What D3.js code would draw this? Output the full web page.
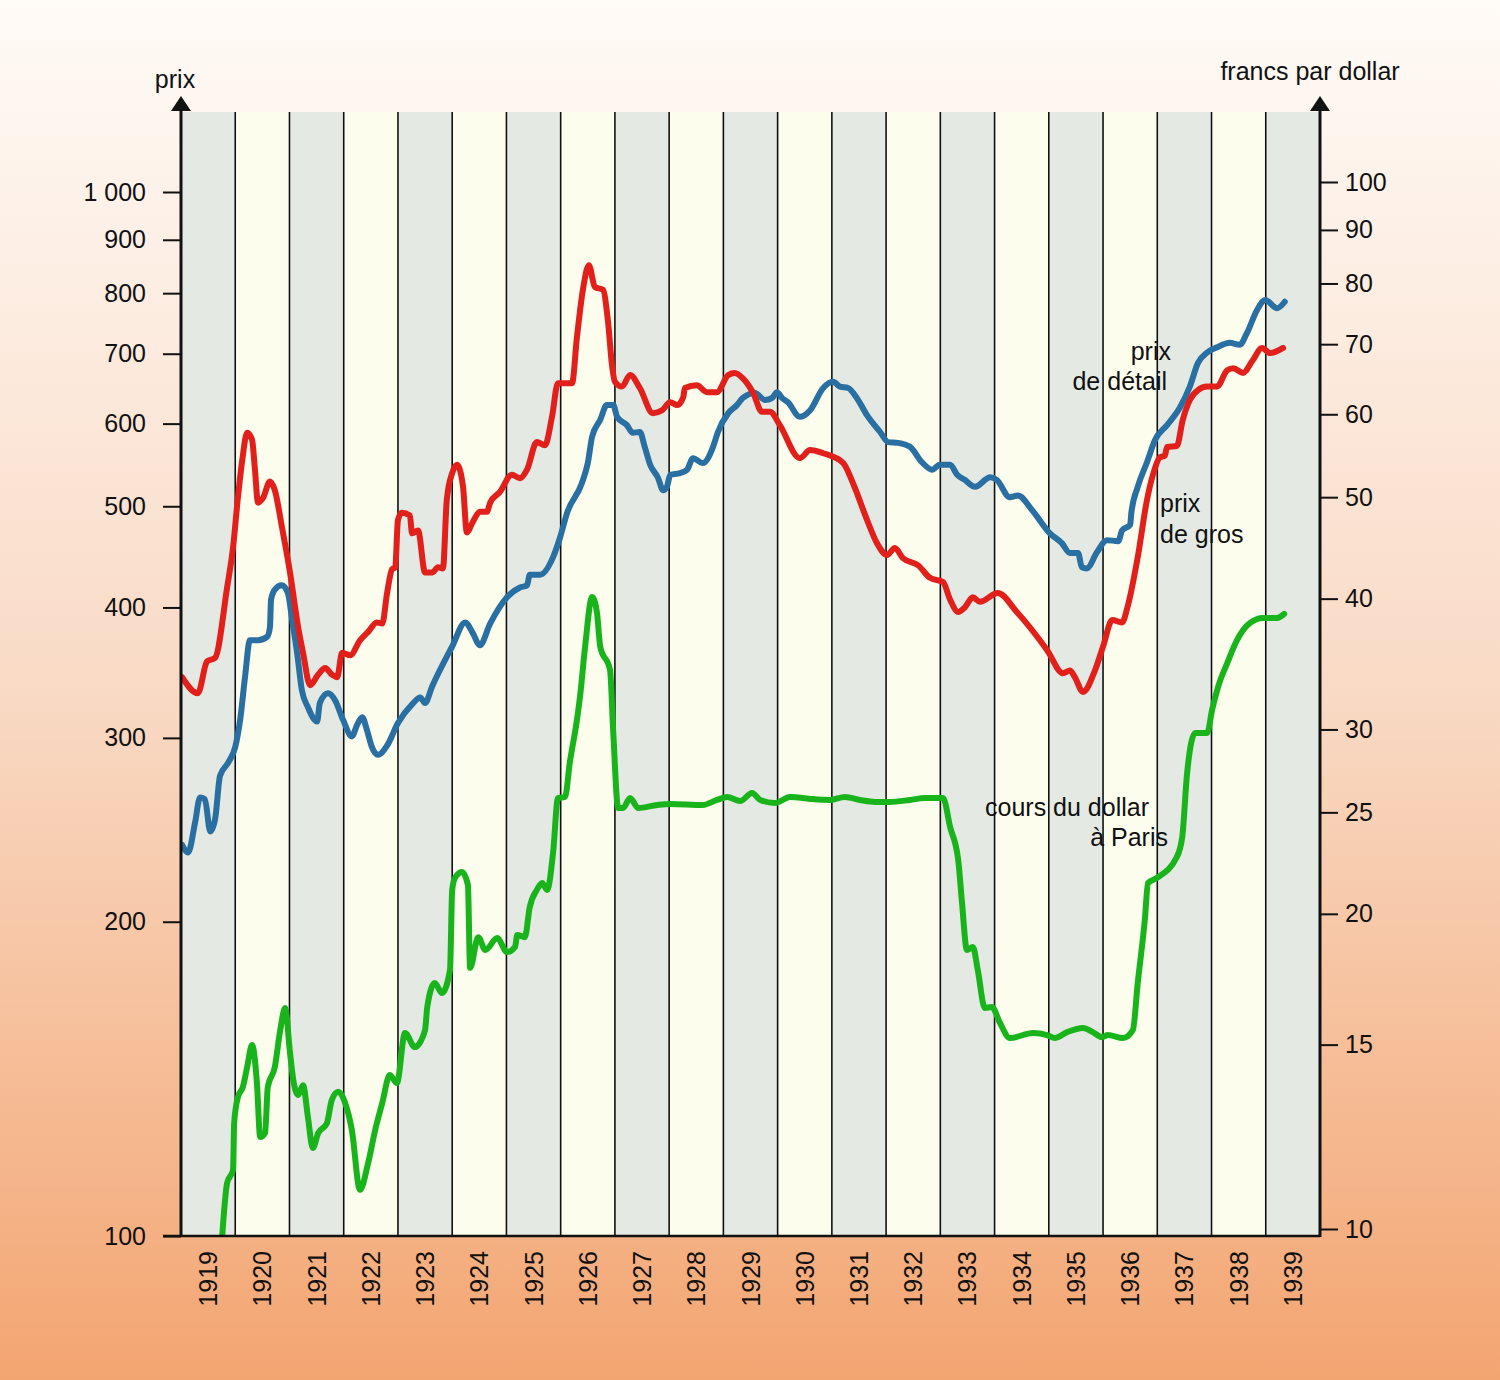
<!DOCTYPE html>
<html><head><meta charset="utf-8">
<script src="https://cdn.jsdelivr.net/npm/d3@7"></script>
<style>body{margin:0}svg{display:block}text{font-family:"Liberation Sans",Arial,sans-serif;fill:#111}</style>
</head><body>
<svg id="c" width="1500" height="1380"></svg>
<script>
// ---- data ----
const years = [1919,1920,1921,1922,1923,1924,1925,1926,1927,1928,1929,1930,1931,1932,1933,1934,1935,1936,1937,1938,1939];
const leftTicks = [100,200,300,400,500,600,700,800,900,1000];
const rightTicks = [10,15,20,25,30,40,50,60,70,80,90,100];

// prix de gros (red)
const grosT = [1919.02,1919.31,1919.48,1919.63,1919.85,1919.96,1920.05,1920.13,1920.22,1920.31,1920.36,1920.42,1920.51,1920.64,1920.73,1920.86,1921.01,1921.16,1921.25,1921.38,1921.53,1921.66,1921.78,1921.88,1921.97,1922.12,1922.30,1922.45,1922.61,1922.71,1922.80,1922.89,1922.95,1923.00,1923.07,1923.22,1923.26,1923.37,1923.50,1923.63,1923.74,1923.83,1923.90,1924.00,1924.09,1924.20,1924.27,1924.38,1924.51,1924.64,1924.70,1924.88,1925.10,1925.25,1925.38,1925.56,1925.71,1925.84,1925.95,1926.21,1926.30,1926.41,1926.52,1926.63,1926.78,1926.87,1926.95,1927.00,1927.13,1927.28,1927.46,1927.70,1927.87,1928.02,1928.15,1928.26,1928.29,1928.51,1928.70,1928.88,1929.09,1929.21,1929.36,1929.55,1929.71,1929.86,1930.04,1930.41,1930.60,1930.84,1931.21,1931.39,1931.65,1931.83,1932.02,1932.16,1932.31,1932.59,1932.81,1933.05,1933.18,1933.33,1933.45,1933.60,1933.73,1934.06,1934.41,1934.97,1935.26,1935.39,1935.48,1935.63,1935.85,1936.00,1936.17,1936.35,1936.46,1936.64,1936.81,1936.92,1937.05,1937.14,1937.18,1937.36,1937.47,1937.60,1937.75,1937.92,1938.10,1938.29,1938.40,1938.58,1938.76,1938.93,1939.08,1939.32];
const grosV = [343,331,355,358,418,457,510,554,588,579,545,504,509,528,518,478,432,383,362,337,345,350,345,343,362,360,372,379,387,386,413,435,437,485,493,490,471,474,432,432,437,436,507,538,548,522,472,483,494,494,504,516,536,532,542,576,572,609,656,656,726,806,851,811,806,754,680,658,651,668,649,614,618,629,625,636,649,653,643,643,668,671,663,642,616,616,598,556,566,562,550,526,485,461,449,456,446,439,427,423,407,396,400,409,405,413,396,364,346,348,343,332,348,367,389,387,402,447,507,536,557,559,570,571,605,632,646,651,651,675,678,671,690,709,701,709];

// prix de détail (blue)
const detailT = [1919.02,1919.13,1919.26,1919.35,1919.44,1919.54,1919.63,1919.72,1919.87,1920.00,1920.09,1920.18,1920.27,1920.42,1920.59,1920.64,1920.66,1920.73,1920.86,1920.97,1921.05,1921.14,1921.23,1921.34,1921.51,1921.56,1921.71,1921.84,1921.99,1922.15,1922.25,1922.34,1922.43,1922.52,1922.63,1922.80,1923.00,1923.26,1923.41,1923.50,1923.63,1924.00,1924.24,1924.38,1924.51,1924.70,1925.01,1925.25,1925.38,1925.43,1925.62,1925.86,1925.99,1926.12,1926.39,1926.50,1926.58,1926.73,1926.85,1926.97,1927.04,1927.22,1927.33,1927.46,1927.55,1927.65,1927.79,1927.89,1927.96,1928.02,1928.20,1928.33,1928.44,1928.62,1928.81,1928.90,1929.09,1929.25,1929.36,1929.58,1929.77,1929.90,1929.99,1930.08,1930.19,1930.41,1930.60,1930.84,1931.02,1931.15,1931.30,1931.46,1931.65,1931.89,1932.04,1932.22,1932.44,1932.66,1932.85,1932.99,1933.18,1933.31,1933.45,1933.64,1933.92,1934.04,1934.28,1934.43,1934.69,1935.02,1935.24,1935.39,1935.54,1935.61,1935.70,1935.89,1936.07,1936.28,1936.35,1936.50,1936.52,1936.64,1936.81,1936.96,1937.18,1937.42,1937.60,1937.75,1937.92,1938.10,1938.34,1938.52,1938.65,1938.84,1938.99,1939.21,1939.35];
const detailV = [237,233,249,263,262,244,251,276,284,294,312,343,372,372,375,383,407,416,420,413,389,362,333,321,311,324,331,326,312,301,309,314,305,294,289,295,310,323,328,324,336,367,387,378,368,386,409,418,420,430,430,447,467,493,526,550,583,605,625,625,609,598,588,589,570,548,533,518,522,536,538,542,556,550,570,589,614,625,635,642,632,635,643,635,629,609,618,649,658,651,649,635,611,589,576,575,570,551,542,548,548,536,530,522,533,530,510,512,496,471,461,451,451,437,436,452,464,463,474,480,492,522,551,579,598,622,651,686,702,710,717,714,732,771,788,774,785];

// cours du dollar à Paris (green, right axis)
const dollarT = [1919.76,1919.85,1919.96,1919.98,1920.05,1920.14,1920.22,1920.31,1920.40,1920.46,1920.55,1920.60,1920.73,1920.83,1920.92,1921.01,1921.07,1921.16,1921.25,1921.34,1921.43,1921.53,1921.69,1921.78,1921.90,1922.02,1922.15,1922.30,1922.45,1922.58,1922.71,1922.85,1922.98,1923.13,1923.31,1923.50,1923.54,1923.68,1923.81,1923.96,1924.00,1924.05,1924.18,1924.29,1924.33,1924.48,1924.61,1924.83,1925.01,1925.16,1925.20,1925.34,1925.43,1925.56,1925.66,1925.75,1925.86,1925.95,1926.08,1926.17,1926.30,1926.36,1926.45,1926.58,1926.67,1926.73,1926.91,1926.97,1927.06,1927.15,1927.28,1927.43,1927.78,1928.02,1928.62,1928.88,1929.07,1929.31,1929.53,1929.68,1929.95,1930.23,1930.60,1930.97,1931.24,1931.52,1931.80,1932.07,1932.44,1932.72,1933.05,1933.18,1933.33,1933.40,1933.49,1933.60,1933.69,1933.82,1933.95,1934.10,1934.28,1934.71,1934.97,1935.11,1935.34,1935.63,1935.81,1935.98,1936.09,1936.37,1936.55,1936.64,1936.77,1936.83,1936.99,1937.36,1937.46,1937.55,1937.70,1937.79,1937.92,1938.01,1938.12,1938.29,1938.47,1938.71,1938.95,1939.21,1939.34];
const dollarV = [9.85,11.06,11.39,12.62,13.37,13.66,14.28,14.99,13.78,12.24,12.35,13.66,14.28,15.49,16.26,14.73,13.88,13.43,13.72,12.79,11.95,12.35,12.62,13.28,13.52,13.22,12.43,10.90,11.56,12.43,13.19,14.03,13.78,15.39,14.92,15.49,16.29,17.18,16.80,17.68,21.08,21.64,21.93,21.31,17.76,19.00,18.47,18.96,18.39,18.60,19.09,19.00,20.30,21.08,21.40,21.08,22.87,25.80,25.86,27.93,30.63,32.36,35.97,40.15,38.76,35.97,34.20,29.77,25.24,25.24,25.80,25.24,25.41,25.47,25.41,25.69,25.86,25.63,26.09,25.69,25.52,25.86,25.75,25.69,25.86,25.69,25.58,25.58,25.69,25.80,25.80,24.21,22.51,20.48,18.47,18.59,17.68,16.26,16.29,15.73,15.22,15.39,15.32,15.22,15.42,15.56,15.42,15.25,15.32,15.22,15.49,17.18,19.73,21.40,21.64,22.66,23.68,27.26,29.77,29.77,29.77,31.31,32.93,34.72,36.52,37.92,38.34,38.34,38.68];

// ---- layout ----
const svg = d3.select("#c");
const X0 = 181, X1 = 1320, YT = 112, YB = 1236;
const x = d3.scaleLinear().domain([1919, 1940]).range([X0, X1]);
const yL = d3.scaleLog().domain([100, 1000]).range([1236, 192]);
const yR = d3.scaleLog().domain([10, 100]).range([1229, 182]);

// background gradient
const defs = svg.append("defs");
const g = defs.append("linearGradient").attr("id","bg").attr("x1",0).attr("y1",0).attr("x2",0).attr("y2",1);
g.append("stop").attr("offset","0").attr("stop-color","#fffbf7");
g.append("stop").attr("offset","0.5").attr("stop-color","#f9dac5");
g.append("stop").attr("offset","1").attr("stop-color","#f3a571");
svg.append("rect").attr("width",1500).attr("height",1380).attr("fill","url(#bg)");
defs.append("clipPath").attr("id","plot").append("rect")
  .attr("x",X0).attr("y",YT).attr("width",X1-X0).attr("height",YB-YT);

// year bands
svg.append("g").selectAll("rect").data(years).join("rect")
  .attr("x", d => x(d)).attr("y", YT)
  .attr("width", d => x(d+1) - x(d)).attr("height", YB - YT)
  .attr("fill", (d,i) => i % 2 === 0 ? "#e5e9e3" : "#fdfdee");

// vertical year separators
svg.append("g").selectAll("line").data(years.slice(1)).join("line")
  .attr("x1", d => x(d)).attr("x2", d => x(d))
  .attr("y1", YT).attr("y2", YB)
  .attr("stroke", "#111").attr("stroke-width", 1.6);

// lines
const mk = (T, V, ys) => T.map((t,i) => [x(t), ys(V[i])]);
const line = d3.line().curve(d3.curveMonotoneX);
const curves = svg.append("g").attr("clip-path","url(#plot)")
  .attr("fill","none").attr("stroke-width",6)
  .attr("stroke-linejoin","round").attr("stroke-linecap","round");
curves.append("path").attr("d", line(mk(detailT, detailV, yL))).attr("stroke","#2a6fa2");
curves.append("path").attr("d", line(mk(grosT, grosV, yL))).attr("stroke","#e1201b");
curves.append("path").attr("d", line(mk(dollarT, dollarV, yR))).attr("stroke","#19b41c");

// axes
const fs = 25;
const axL = svg.append("g").attr("transform",`translate(${X0},0)`)
  .call(d3.axisLeft(yL).tickValues(leftTicks).tickSize(18).tickPadding(17)
    .tickFormat(d => d === 1000 ? "1\u00a0000" : String(d)));
const axR = svg.append("g").attr("transform",`translate(${X1},0)`)
  .call(d3.axisRight(yR).tickValues(rightTicks).tickSize(18).tickPadding(7)
    .tickFormat(d => String(d)));
[axL, axR].forEach(a => {
  a.select(".domain").remove();
  a.selectAll(".tick line").attr("stroke","#111").attr("stroke-width",2);
  a.selectAll(".tick text").attr("font-size",fs).attr("fill","#111")
    .attr("font-family",'"Liberation Sans",Arial,sans-serif');
});

// bottom axis line
svg.append("line").attr("x1",X0-18).attr("x2",X1).attr("y1",YB).attr("y2",YB)
  .attr("stroke","#111").attr("stroke-width",2.5);
// vertical axes with arrows
[X0, X1].forEach(ax => {
  svg.append("line").attr("x1",ax).attr("x2",ax).attr("y1",YB+1).attr("y2",104)
    .attr("stroke","#111").attr("stroke-width",3);
  svg.append("path").attr("d",`M${ax-10},111 L${ax},96 L${ax+10},111 Z`).attr("fill","#111");
});

// year labels
svg.append("g").selectAll("text").data(years).join("text")
  .attr("transform", d => `translate(${x(d+0.5)},1251) rotate(-90)`)
  .attr("text-anchor","end").attr("dominant-baseline","central")
  .attr("font-size",fs).text(d => d);

// axis titles
svg.append("text").attr("x",175).attr("y",88).attr("text-anchor","middle").attr("font-size",fs).text("prix");
svg.append("text").attr("x",1310).attr("y",80).attr("text-anchor","middle").attr("font-size",fs).text("francs par dollar");

// series labels
const lab = (tx, ty, s, anchor) => svg.append("text").attr("x",tx).attr("y",ty)
  .attr("text-anchor",anchor).attr("font-size",fs).text(s);
lab(1171, 360, "prix", "end");
lab(1167, 390, "de détail", "end");
lab(1160, 512, "prix", "start");
lab(1160, 543, "de gros", "start");
lab(1149, 816, "cours du dollar", "end");
lab(1168, 846, "à Paris", "end");
</script>
</body></html>
